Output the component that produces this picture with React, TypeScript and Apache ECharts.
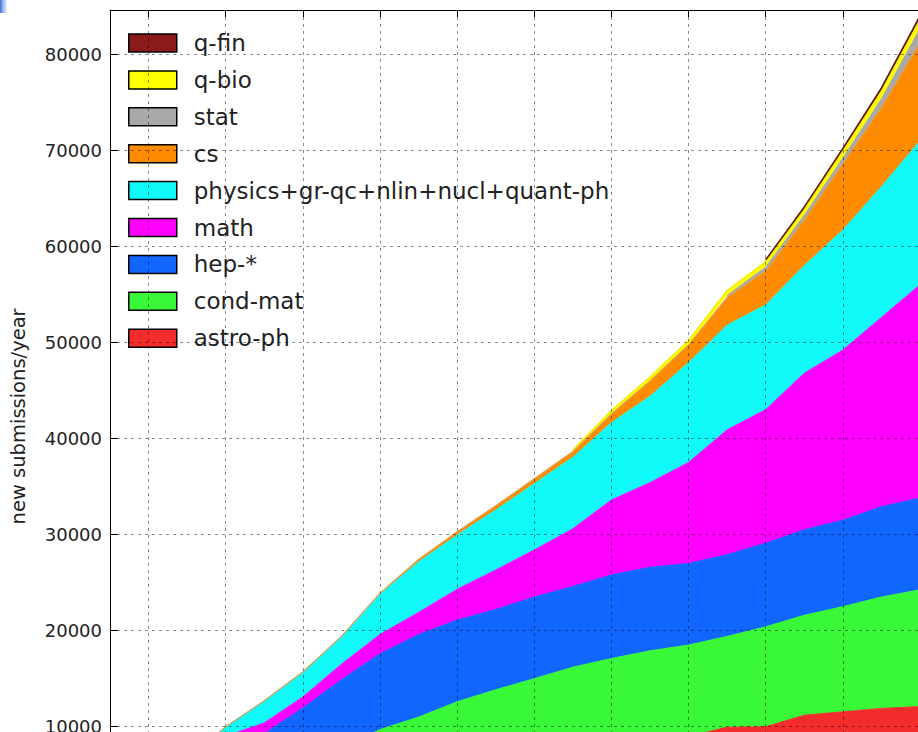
import React, { useEffect, useRef } from 'react';
import * as echarts from 'echarts';

const years = ['1991','1992','1993','1994','1995','1996','1997','1998','1999','2000','2001','2002','2003','2004','2005','2006','2007','2008','2009','2010','2011','2012'];

const astroPh = [0,100,800,1800,2500,3300,4100,5000,5800,6300,6700,7200,7600,8000,8400,9000,9950,10000,11200,11550,11900,12100];
const condMat = [0,200,700,1200,2000,2700,3700,4700,5200,6300,7150,7800,8600,9100,9500,9500,9450,10400,10400,10950,11600,12150];
const hep = [300,2700,4000,5000,4800,5950,7100,7900,8600,8500,8350,8500,8400,8700,8700,8500,8500,8700,8900,9000,9400,9550];
const math = [0,100,500,1000,1100,1150,1600,2000,2300,3200,4100,4900,6000,7800,8800,10500,13000,13900,16300,17700,19700,22200];
const physics = [0,100,700,1000,2300,2600,2900,4200,5250,5650,6250,6900,7450,8050,9000,10400,10900,10900,11200,12500,13600,15000];
const cs = [0,0,0,0,0,0,0,100,250,350,450,500,600,900,1600,1850,2900,3550,4750,6900,8250,10200];
const stat = [null,null,null,null,null,null,null,null,null,null,null,null,null,null,null,null,200,400,500,600,900,1500];
const qBio = [null,null,null,null,null,null,null,null,null,null,null,null,150,350,400,450,500,550,600,700,800,900];
const qFin = [null,null,null,null,null,null,null,null,null,null,null,null,null,null,null,null,null,200,250,300,350,400];

const yTicks = [0,10000,20000,30000,40000,50000,60000,70000,80000];

const FONT = 'DejaVu Sans';

export default function App() {
  const ref = useRef<HTMLDivElement>(null);
  useEffect(() => {
    const chart = echarts.init(ref.current!, null, { renderer: 'svg' });
    const evenYear = (idx: number) => (1991 + idx) % 2 === 0;
    const mk = (name: string, data: (number | null)[], color: string, lineColor?: string, lineWidth?: number) => ({
      type: 'line',
      name,
      data,
      stack: 'total',
      symbol: 'none',
      showSymbol: false,
      silent: true,
      areaStyle: { color, opacity: 1 },
      itemStyle: { color },
      lineStyle: { color: lineColor ?? color, width: lineWidth ?? 1 },
      emphasis: { disabled: true },
      z: 2,
    });
    const gridLine = { show: true, lineStyle: { color: 'rgba(0,0,0,0.45)', width: 1, type: [3, 4] } };
    const option: any = {
      animation: false,
      backgroundColor: '#ffffff',
      grid: { left: 108, top: 10, width: 812, height: 812.8, containLabel: false },
      legend: {
        orient: 'vertical',
        left: 123,
        top: 26.5,
        icon: 'rect',
        itemWidth: 48,
        itemHeight: 18,
        itemGap: 13.9,
        itemStyle: { borderColor: '#000', borderWidth: 1.5 },
        textStyle: { fontSize: 23, fontFamily: FONT, color: '#222', padding: [0, 0, 0, 12] },
        data: ['q-fin', 'q-bio', 'stat', 'cs', 'physics+gr-qc+nlin+nucl+quant-ph', 'math', 'hep-*', 'cond-mat', 'astro-ph'],
        selectedMode: false,
      },
      xAxis: [
        {
          type: 'category',
          data: years,
          boundaryGap: false,
          position: 'bottom',
          axisLine: { show: false },
          axisTick: { show: false },
          axisLabel: { show: false },
          splitLine: { ...gridLine, interval: (i: number) => evenYear(i) },
          z: 10,
        },
        {
          type: 'category',
          data: years,
          boundaryGap: false,
          position: 'top',
          axisLine: { show: true, lineStyle: { color: '#000', width: 1 } },
          axisTick: { show: true, inside: true, length: 7, interval: (i: number) => evenYear(i), lineStyle: { color: '#000' } },
          axisLabel: { show: false },
          splitLine: { show: false },
          z: 10,
        },
      ],
      yAxis: {
        type: 'value',
        min: 0,
        max: 84600,
        interval: 10000,
        axisLine: { show: true, lineStyle: { color: '#000' } },
        axisTick: { show: true, inside: true, length: 8, lineStyle: { color: '#000' } },
        axisLabel: {
          fontSize: 18,
          fontFamily: FONT,
          color: '#222',
          margin: 8,
          formatter: (v: number) => (yTicks.includes(v) ? String(v) : ''),
        },
        splitLine: gridLine,
        name: 'new submissions/year',
        nameLocation: 'middle',
        nameRotate: 90,
        nameGap: 82,
        nameTextStyle: { fontSize: 19.5, fontFamily: FONT, color: '#222' },
        z: 10,
      },
      graphic: [
        {
          type: 'rect',
          x: 0,
          y: 0,
          shape: { x: 0, y: 0, width: 7, height: 13 },
          style: {
            fill: new echarts.graphic.LinearGradient(0, 0, 1, 0, [
              { offset: 0, color: '#3b6fd4' },
              { offset: 1, color: 'rgba(140,175,235,0.2)' },
            ]),
          },
          silent: true,
        },
      ],
      series: [
        mk('astro-ph', astroPh, '#f52c2c'),
        mk('cond-mat', condMat, '#38f838'),
        mk('hep-*', hep, '#1166ff'),
        mk('math', math, '#ff00ff'),
        mk('physics+gr-qc+nlin+nucl+quant-ph', physics, '#10fafa'),
        mk('cs', cs, '#ff8c00', '#dca050', 1.2),
        mk('stat', stat, '#a9a9a9'),
        mk('q-bio', qBio, '#ffff00', '#f2f000', 1.5),
        mk('q-fin', qFin, '#8b1a1a', '#5e1a10', 1.5),
      ],
    };
    chart.setOption(option);
    return () => chart.dispose();
  }, []);
  return (
    <div style={{ position: 'fixed', left: 0, top: 0, width: 918, height: 732, overflow: 'hidden', background: '#fff' }}>
      <div ref={ref} style={{ width: 960, height: 880 }} />
    </div>
  );
}
